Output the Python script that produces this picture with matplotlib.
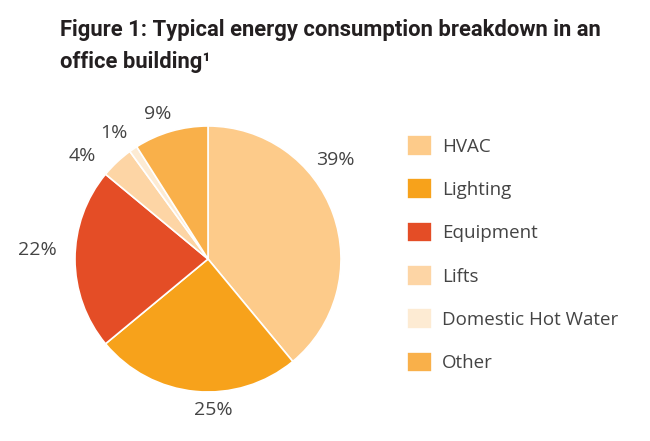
import matplotlib
matplotlib.use("Agg")
import matplotlib.pyplot as plt

categories = ["HVAC", "Lighting", "Equipment", "Lifts", "Domestic Hot Water", "Other"]
shares = [39, 25, 22, 4, 1, 9]
colors = ["#FDCB8A", "#F7A21B", "#E44D26", "#FDD5A5", "#FDEBD3", "#F9B04A"]
# label positions in units of pie radius
label_pos = [(0.955, 0.744), (0.04, -1.135), (-1.28, 0.068),
             (-0.947, 0.774), (-0.707, 0.947), (-0.376, 1.09)]

fig = plt.figure(figsize=(6.5, 4.41), dpi=100)
fig.patch.set_facecolor("white")

title_font = dict(family=["Roboto", "DejaVu Sans"], weight="bold",
                  fontsize=15, color="#231f20", va="center", ha="left")
t1 = fig.text(60/650, 1-30/441, "Figure 1: Typical energy consumption breakdown in an",
              **title_font)
t2 = fig.text(60/650, 1-62/441, "office building\u00b9", **title_font)
# squeeze title to the reference width (544 px)
r = fig.canvas.get_renderer()
w = t1.get_window_extent(r).width
scale = 544.0 / w
t1.set_fontsize(15 * scale)
t2.set_fontsize(15 * scale)

# pie axes: centre (208,259) px, radius 133 px
ax = fig.add_axes([75/650, 1-392/441, 266/650, 266/441])
wedges, _ = ax.pie(shares, colors=colors, startangle=90, counterclock=False,
                   radius=1, wedgeprops=dict(edgecolor="white", linewidth=1.2))
ax.set_xlim(-1, 1)
ax.set_ylim(-1, 1)
ax.axis("off")

for s, (lx, ly) in zip(shares, label_pos):
    ax.text(lx, ly, "%d%%" % s, ha="center", va="center", fontsize=14,
            family="Open Sans", color="#444444", clip_on=False)

fig.legend(wedges, categories, loc="upper left",
           bbox_to_anchor=(407/650, 1-135/441), frameon=False,
           prop=dict(family="Open Sans", size=13.5), labelcolor="#444444",
           handlelength=1.33, handleheight=1.33, labelspacing=1.2,
           handletextpad=0.52, borderpad=0, borderaxespad=0)

fig.savefig("out.png", dpi=100)
